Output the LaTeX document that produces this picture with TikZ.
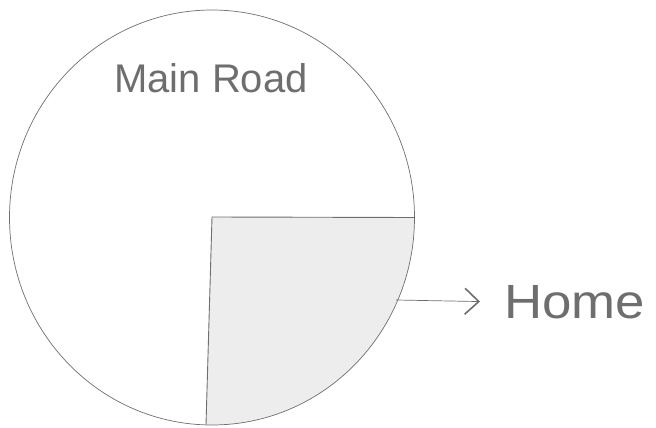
\documentclass[tikz,border=0pt]{standalone}
\usepackage{fontspec}
\setmainfont{Liberation Sans}
\usetikzlibrary{arrows.meta}
\definecolor{pencil}{HTML}{6E6E6E}
\definecolor{areafill}{HTML}{EDEDED}
\tikzset{
  pen/.style={draw=pencil, line width=0.7pt},
  label/.style={text=pencil, inner sep=0pt},
}
\begin{document}
\begin{tikzpicture}[x=1pt,y=-1pt]
\useasboundingbox (0,0) rectangle (656,428);
\coordinate (c) at (212,217);
\coordinate (r) at (414.5,217.5);
\coordinate (b) at (206,424.9);
% shaded quarter
\fill[areafill] (c) -- (r) arc[start angle=0, end angle=91.7, x radius=202.5, y radius=207.5] -- cycle;
% circle
\draw[pen] (212,217.5) ellipse[x radius=202.5, y radius=207.5];
% quarter edges
\draw[pen, line width=0.9pt] (r) -- (c) -- (b);
% labels
\node[label, font=\fontsize{40}{42}\selectfont] (road) at (211,78) {Main Road};
\node[label, anchor=west, font=\fontsize{48}{50}\selectfont, xscale=1.1] (home) at (504,302) {Home};
\coordinate (a) at (396,300);
\draw[pen, shorten >=24pt, -{Straight Barb[length=14pt,width=26pt,line width=1.6pt]}] (a) -- (home.west);
\end{tikzpicture}
\end{document}
